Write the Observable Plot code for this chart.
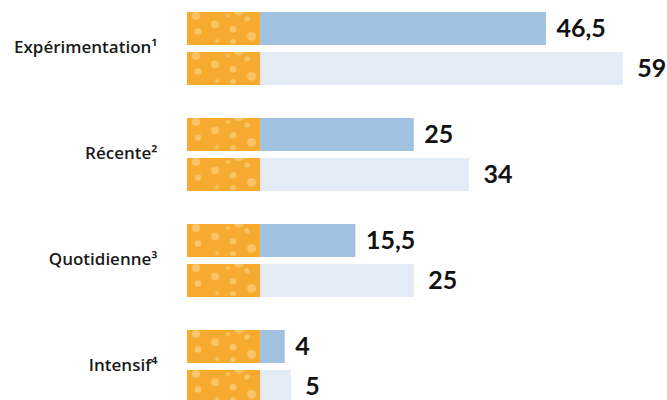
<!DOCTYPE html>
<html>
<head>
<meta charset="utf-8">
<script src="https://cdn.jsdelivr.net/npm/d3@7"></script>
<script src="https://cdn.jsdelivr.net/npm/@observablehq/plot@0.6"></script>
<style>
  html, body { margin: 0; padding: 0; background: #fff; }
  svg { display: block; }
</style>
</head>
<body>
<div id="chart"></div>
<script>
const categories = ["Expérimentation¹", "Récente²", "Quotidienne³", "Intensif⁴"];
const seriesNames = ["Série 1", "Série 2"];
const values1 = [46.5, 25, 15.5, 4];
const values2 = [59, 34, 25, 5];

const data = [];
categories.forEach((c, i) => {
  data.push({cat: c, series: seriesNames[0], value: values1[i]});
  data.push({cat: c, series: seriesNames[1], value: values2[i]});
});

const filterSpan = 11.9; // decorative filter drawn left of zero
const fmt = v => v.toLocaleString("fr-FR");

const chart = Plot.plot({
  width: 667,
  height: 400,
  marginLeft: 187,
  marginRight: 0,
  marginTop: 10,
  marginBottom: -4,
  style: {fontFamily: "Lato, sans-serif", background: "#fff"},
  x: {domain: [-filterSpan, 66.2], axis: null},
  fy: {domain: categories, paddingInner: 0.297, paddingOuter: 0, label: null},
  y: {domain: seriesNames, paddingInner: 0.17, paddingOuter: 0, axis: null},
  color: {domain: seriesNames, range: ["#A0C1E0", "#E2EBF6"]},
  marks: [
    Plot.barX(data, {fy: "cat", y: "series", x1: 0, x2: "value", fill: "series"}),
    Plot.barX(data, {fy: "cat", y: "series", x1: -filterSpan, x2: 0, fill: "url(#filterPattern)"}),
    Plot.text(data.filter(d => d.series === seriesNames[0]), {
      fy: "cat", y: "series", x: "value", text: d => fmt(d.value),
      textAnchor: "start", dx: 10, fontSize: 25, fontWeight: 700, fill: "#111"
    }),
    Plot.text(data.filter(d => d.series === seriesNames[1]), {
      fy: "cat", y: "series", x: "value", text: d => fmt(d.value),
      textAnchor: "start", dx: 14, fontSize: 25, fontWeight: 700, fill: "#111"
    }),
    Plot.axisFy({anchor: "left", tickSize: 0, tickPadding: 30, dy: -1, fontSize: 17, fontWeight: 600, fontFamily: "'Open Sans', sans-serif", fill: "#1a1a1a", label: null})
  ]
});

// pattern for the cigarette filter
const svg = d3.select(chart);
const defs = svg.insert("defs", ":first-child");
const pat = defs.append("pattern")
  .attr("id", "filterPattern")
  .attr("patternUnits", "objectBoundingBox")
  .attr("width", 1).attr("height", 1)
  .attr("viewBox", "0 0 73 34")
  .attr("preserveAspectRatio", "none");
pat.append("rect").attr("width", 73).attr("height", 34).attr("fill", "#F6AB30");
const dots = [[9,4,4],[28,12.7,4],[41,4,2],[52,-1.5,5],[60,7.2,2.7],[11,20,3.3],[46,17.7,3.3],[64.5,25,4.5],[30,30,2],[46,30.5,2.8]];
dots.forEach(([cx, cy, r]) => pat.append("circle").attr("cx", cx).attr("cy", cy).attr("r", r).attr("fill", "#FAC86E").attr("opacity", 0.9));

document.getElementById("chart").appendChild(chart);
</script>
</body>
</html>
